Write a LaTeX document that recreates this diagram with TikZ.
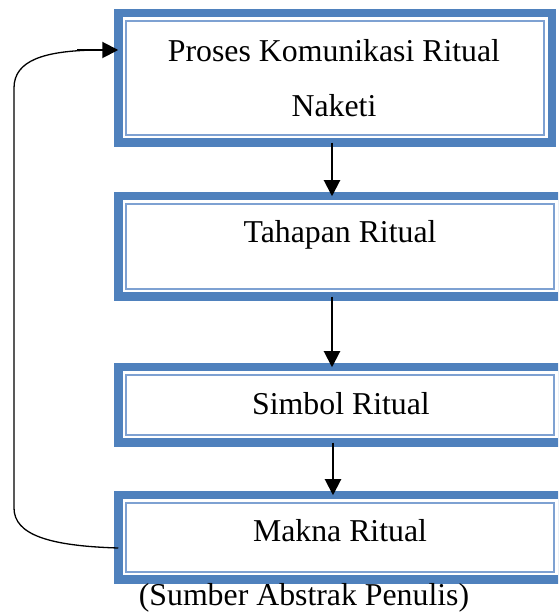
\documentclass[tikz,border=0pt]{standalone}
\usepackage{fontspec}
\setmainfont{Liberation Serif}
\usetikzlibrary{arrows.meta}
\definecolor{boxblue}{HTML}{4F81BD}
\definecolor{thinblue}{HTML}{7EA1D2}
\begin{document}
\begin{tikzpicture}[x=1pt,y=1pt,
  box/.style={draw=boxblue, line width=8.5pt, fill=white, inner sep=0pt, outer sep=0pt, rectangle},
  innerline/.style={draw=thinblue, line width=2.2pt},
  lbl/.style={font=\fontsize{31.8}{38}\selectfont, anchor=base, inner sep=0pt},
  flow/.style={draw=black, line width=2pt, -{Triangle[length=16pt,width=16pt]}},
  loopline/.style={draw=black, line width=1.3pt},
]
\useasboundingbox (0,0) rectangle (558,613);
\clip (0,0) rectangle (558,613);
\node[box, minimum width=433.5pt, minimum height=129.5pt] (b1) at (335,535) {};
\node[box, minimum width=443.5pt, minimum height=100.5pt] (b2) at (340,366.5) {};
\node[box, minimum width=443.5pt, minimum height=75.5pt] (b3) at (340,208) {};
\node[box, minimum width=443.5pt, minimum height=84.5pt] (b4) at (340,75.5) {};
\foreach \b in {b1,b2,b3,b4}
  \draw[innerline] ([shift={(7.5pt,-7.5pt)}]\b.north west) rectangle ([shift={(-7.5pt,7.5pt)}]\b.south east);
\node[lbl] (t1a) at (334,551) {Proses Komunikasi Ritual};
\node[lbl] (t1b) at (334,496) {Naketi};
\node[lbl] (t2) at (340,370) {Tahapan Ritual};
\node[lbl] (t3) at (341,198) {Simbol Ritual};
\node[lbl] (t4) at (340,71) {Makna Ritual};
\node[lbl] (cap) at (304,8) {(Sumber Abstrak Penulis)};
\coordinate (ax) at (332,0);
\coordinate (bx) at (333,0);
\draw[flow] (b1.south -| ax) -- (b2.north -| ax);
\draw[flow] (b2.south -| ax) -- (b3.north -| ax);
\draw[flow] (b3.south -| bx) -- (b4.north -| bx);
\coordinate (lb) at ([yshift=-10.5pt]b4.west);
\coordinate (lt) at ([yshift=28pt]b1.west);
\coordinate (c1) at (14,105);
\coordinate (c2) at (14,525);
\coordinate (c3) at (95,563);
\coordinate (as) at (77,563);
\draw[loopline] (lb) .. controls (50,67) and (14,78) .. (c1) -- (c2) .. controls (14,553) and (45,562) .. (c3);
\draw[flow] (as) -- (lt);
\end{tikzpicture}
\end{document}
